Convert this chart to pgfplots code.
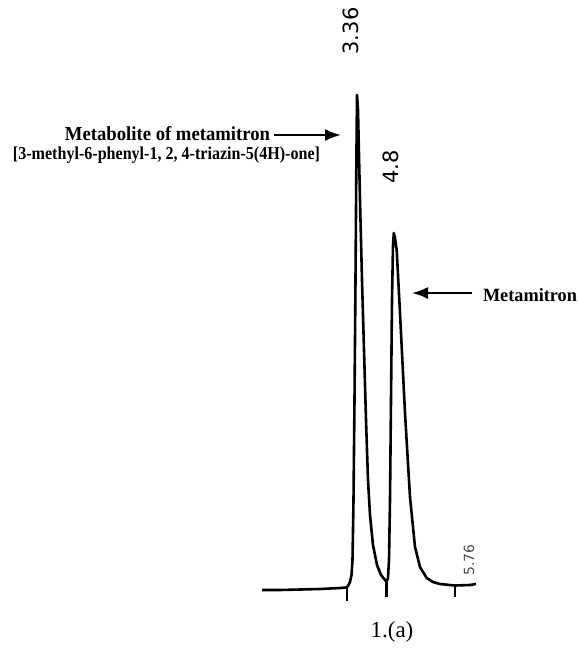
\documentclass[border=0pt]{standalone}
\usepackage{pgfplots}
\pgfplotsset{compat=1.18}
\usepackage{graphicx}
\usepackage{fontspec}
\setmainfont{Liberation Serif}
\newfontfamily\numfont{DejaVu Sans}
\usetikzlibrary{arrows.meta}
\begin{document}
\begin{tikzpicture}
\begin{axis}[width=289pt,height=327pt,scale only axis,
  xmin=0,xmax=578,ymin=0,ymax=654,y dir=reverse,hide axis,clip=false]
\path (rel axis cs:0,0) rectangle (rel axis cs:1,1);
% chromatogram trace (x, y in picture units, y downward)
\addplot[black,line width=1.3pt,line join=round,mark=none] coordinates {
(262,590)(280,590)(300,589.5)(320,589)(340,588)(346,587.5)
(348,586)(350,582)(351.5,575)(352.5,560)(353.5,500)(354.5,400)(355.5,280)(356.3,170)(357,95)
(358,110)(360,200)(362,280)(364,350)(366,420)(368,480)(370,515)(373,545)(377,565)(381,575)(385,580)(386.5,582)
(388,578)(389,560)(390,500)(391,400)(392,300)(393,245)(393.8,233)
(395,238)(396.7,250)(400,313)(405,413)(410,497)(415,547)(420,567)(426.7,578)(433,582)(440,584)(455,585.5)(470,585)(476,584)
};
% baseline tick marks
\addplot[black,line width=1.3pt,mark=none] coordinates {(347,588)(347,601)};
\addplot[black,line width=1.3pt,mark=none] coordinates {(386.5,583)(386.5,597)};
\addplot[black,line width=1.3pt,mark=none] coordinates {(455,585.5)(455,597)};
% peak labels
\node[rotate=90,inner sep=0pt] at (axis cs:350.5,31) {\numfont\fontsize{10.5}{12}\selectfont 3.36};
\node[rotate=90,inner sep=0pt] at (axis cs:390.5,167) {\numfont\fontsize{10.5}{12}\selectfont 4.8};
\node[rotate=90,inner sep=0pt,text=black!70] at (axis cs:469,560) {\numfont\fontsize{7}{8}\selectfont 5.76};
% annotations
\node[inner sep=0pt] at (axis cs:167.5,134) {\resizebox{102.5pt}{7pt}{\bfseries Metabolite of metamitron}};
\node[inner sep=0pt] at (axis cs:166.5,155) {\resizebox{153.5pt}{6.3pt}{\bfseries [3-methyl-6-phenyl-1, 2, 4-triazin-5(4H)-one]}};
\draw[line width=1pt,-{Latex[length=8pt,width=6pt]}] (axis cs:274,135) -- (axis cs:341,135);
\node[inner sep=0pt] at (axis cs:530,295) {\resizebox{47pt}{6.5pt}{\bfseries Metamitron}};
\draw[line width=1pt,-{Latex[length=8pt,width=6pt]}] (axis cs:472,293) -- (axis cs:412,293);
\node[inner sep=0pt] at (axis cs:392,632) {\fontsize{11.5}{13}\selectfont 1.(a)};
\end{axis}
\end{tikzpicture}
\end{document}
